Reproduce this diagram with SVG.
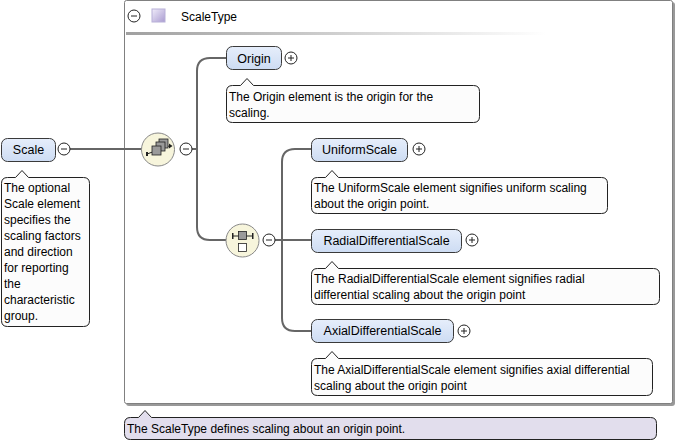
<svg xmlns="http://www.w3.org/2000/svg" width="676" height="443" viewBox="0 0 676 443">
<defs>
<linearGradient id="tl" x1="0" x2="1" y1="0" y2="0"><stop offset="0" stop-color="#a0a0a0"/><stop offset="1" stop-color="#ffffff"/></linearGradient>
<linearGradient id="sq" x1="0" x2="1" y1="0" y2="1"><stop offset="0" stop-color="#f0ecfa"/><stop offset="1" stop-color="#a99bd0"/></linearGradient>
<linearGradient id="nf" x1="0" x2="0" y1="0" y2="1"><stop offset="0" stop-color="#e6eefb"/><stop offset="1" stop-color="#cddcf3"/></linearGradient>
<style>
text{font-family:"Liberation Sans",Arial,sans-serif;font-size:12px;fill:#000}
.nt{font-size:12.5px}
.node{fill:url(#nf);stroke:#3a3a3a;stroke-width:1}
.ann{fill:#fcfcfc;stroke:#222;stroke-width:1}
.conn{fill:none;stroke:#666;stroke-width:2}
.pm{fill:#fff;stroke:#222;stroke-width:1}
.pmline{stroke:#222;stroke-width:1}
.comp{fill:#f7f5dc;stroke:#888;stroke-width:1}
.ic{fill:#9a9a9a;stroke:#222;stroke-width:0.8}
</style>
</defs>
<g id="ScaleType">
<rect x="126" y="2" width="549" height="404" rx="3" fill="#999"/>
<rect x="124.5" y="0.5" width="548" height="403" rx="2" fill="#fff" stroke="#808080"/>
<circle class="pm" cx="134" cy="16" r="6"/><line class="pmline" x1="131" y1="16" x2="137" y2="16"/>
<rect x="152" y="9" width="13" height="13" fill="url(#sq)" stroke="#b8b0d8"/>
<text x="181" y="21">ScaleType</text>
<rect x="126" y="32" width="420" height="3" fill="url(#tl)"/>
</g>
<g id="connectors">
<path class="conn" d="M70 149 H142"/>
<path class="conn" d="M192 149 H197"/>
<path class="conn" d="M226 58 H210 Q197 58 197 71 V227 Q197 240 210 240 H227"/>
<path class="conn" d="M275 240 H282"/>
<path class="conn" d="M311 149 H295 Q282 149 282 162 V318 Q282 331 295 331 H311"/>
<path class="conn" d="M282 240 H311"/>
</g>
<g id="Scale">
<rect class="node" x="1.5" y="138.5" width="54" height="23" rx="6"/>
<text class="nt" x="28.5" y="154" text-anchor="middle">Scale</text>
<circle class="pm" cx="64" cy="149" r="6"/><line class="pmline" x1="61" y1="149" x2="67" y2="149"/>
<path class="ann" d="M7.5 177.5 H15.5 L22 170.5 L28.5 177.5 H83.5 Q89.5 177.5 89.5 183.5 V320.5 Q89.5 326.5 83.5 326.5 H7.5 Q1.5 326.5 1.5 320.5 V183.5 Q1.5 177.5 7.5 177.5 Z"/>
<text x="4" y="192">The optional</text>
<text x="4" y="208">Scale element</text>
<text x="4" y="224">specifies the</text>
<text x="4" y="240">scaling factors</text>
<text x="4" y="256">and direction</text>
<text x="4" y="272">for reporting</text>
<text x="4" y="288">the</text>
<text x="4" y="304">characteristic</text>
<text x="4" y="320">group.</text>
</g>
<g id="sequence">
<circle class="comp" cx="158" cy="149.5" r="16.5"/>
<line x1="147" y1="154" x2="169" y2="146" stroke="#222" stroke-width="1"/>
<rect class="ic" x="159" y="139" width="9" height="9"/>
<rect class="ic" x="156" y="142" width="9" height="9"/>
<rect class="ic" x="152" y="146" width="9" height="9"/>
<rect x="146" y="152" width="2" height="4" fill="#222"/>
<path d="M169 143.5 L172.5 146 L169 148.5 Z" fill="#222"/>
<circle class="pm" cx="186" cy="149" r="6"/><line class="pmline" x1="183" y1="149" x2="189" y2="149"/>
</g>
<g id="choice">
<circle class="comp" cx="242.5" cy="240.5" r="16.5"/>
<line x1="233" y1="236" x2="253" y2="236" stroke="#222" stroke-width="1"/>
<rect x="232" y="233" width="1.5" height="6" fill="#222"/>
<rect x="252" y="233" width="1.5" height="6" fill="#222"/>
<rect class="ic" x="238.5" y="231.5" width="8" height="8"/>
<rect x="238.5" y="243.5" width="8" height="8" fill="#fff" stroke="#222" stroke-width="0.8"/>
<circle class="pm" cx="269" cy="240" r="6"/><line class="pmline" x1="266" y1="240" x2="272" y2="240"/>
</g>
<g id="Origin">
<rect class="node" x="226.5" y="46.5" width="55" height="23" rx="6"/>
<text class="nt" x="254" y="63" text-anchor="middle">Origin</text>
<circle class="pm" cx="291" cy="58" r="6"/><line class="pmline" x1="288" y1="58" x2="294" y2="58"/><line class="pmline" x1="291" y1="55" x2="291" y2="61"/>
<path class="ann" d="M232.5 85.5 H240.5 L247 78.5 L253.5 85.5 H473.5 Q479.5 85.5 479.5 91.5 V116.5 Q479.5 122.5 473.5 122.5 H232.5 Q226.5 122.5 226.5 116.5 V91.5 Q226.5 85.5 232.5 85.5 Z"/>
<text x="229" y="101">The Origin element is the origin for the</text>
<text x="229" y="117">scaling.</text>
</g>
<g id="UniformScale">
<rect class="node" x="311.5" y="138.5" width="96" height="23" rx="6"/>
<text class="nt" x="359.5" y="154" text-anchor="middle">UniformScale</text>
<circle class="pm" cx="419" cy="149" r="6"/><line class="pmline" x1="416" y1="149" x2="422" y2="149"/><line class="pmline" x1="419" y1="146" x2="419" y2="152"/>
<path class="ann" d="M317.5 177.5 H325.5 L332 170.5 L338.5 177.5 H601.5 Q607.5 177.5 607.5 183.5 V207.5 Q607.5 213.5 601.5 213.5 H317.5 Q311.5 213.5 311.5 207.5 V183.5 Q311.5 177.5 317.5 177.5 Z"/>
<text x="314" y="192">The UniformScale element signifies uniform scaling</text>
<text x="314" y="208">about the origin point.</text>
</g>
<g id="RadialDifferentialScale">
<rect class="node" x="311.5" y="229.5" width="150" height="23" rx="6"/>
<text class="nt" x="386.5" y="245" text-anchor="middle">RadialDifferentialScale</text>
<circle class="pm" cx="472" cy="240" r="6"/><line class="pmline" x1="469" y1="240" x2="475" y2="240"/><line class="pmline" x1="472" y1="237" x2="472" y2="243"/>
<path class="ann" d="M317.5 268.5 H325.5 L332 261.5 L338.5 268.5 H653.5 Q659.5 268.5 659.5 274.5 V298.5 Q659.5 304.5 653.5 304.5 H317.5 Q311.5 304.5 311.5 298.5 V274.5 Q311.5 268.5 317.5 268.5 Z"/>
<text x="314" y="283">The RadialDifferentialScale element signifies radial</text>
<text x="314" y="299">differential scaling about the origin point</text>
</g>
<g id="AxialDifferentialScale">
<rect class="node" x="311.5" y="319.5" width="142" height="23" rx="6"/>
<text class="nt" x="382.5" y="335" text-anchor="middle">AxialDifferentialScale</text>
<circle class="pm" cx="464" cy="331" r="6"/><line class="pmline" x1="461" y1="331" x2="467" y2="331"/><line class="pmline" x1="464" y1="328" x2="464" y2="334"/>
<path class="ann" d="M317.5 358.5 H325.5 L332 351.5 L338.5 358.5 H646.5 Q652.5 358.5 652.5 364.5 V389.5 Q652.5 395.5 646.5 395.5 H317.5 Q311.5 395.5 311.5 389.5 V364.5 Q311.5 358.5 317.5 358.5 Z"/>
<text x="314" y="374">The AxialDifferentialScale element signifies axial differential</text>
<text x="314" y="390">scaling about the origin point</text>
</g>
<g id="ScaleType-annotation">
<path d="M130.5 417.5 H138.5 L145 410.5 L151.5 417.5 H650.5 Q656.5 417.5 656.5 423.5 V433.5 Q656.5 439.5 650.5 439.5 H130.5 Q124.5 439.5 124.5 433.5 V423.5 Q124.5 417.5 130.5 417.5 Z" fill="#e2deed" stroke="#222"/>
<text x="127" y="433">The ScaleType defines scaling about an origin point.</text>
</g>
</svg>
